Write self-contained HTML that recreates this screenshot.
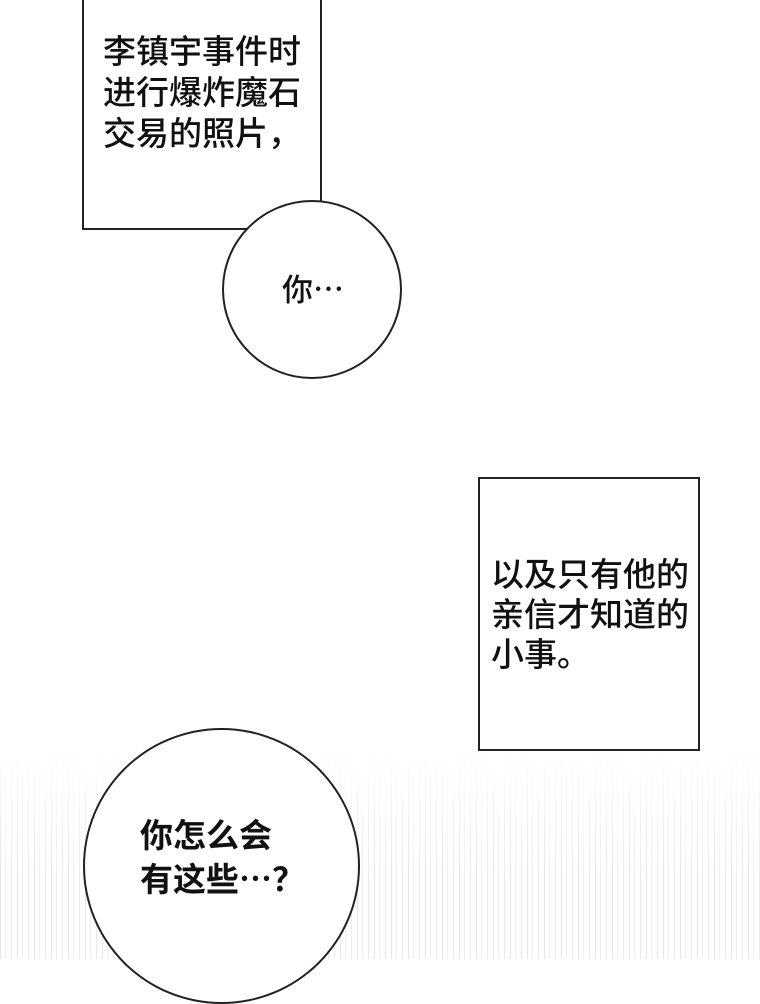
<!DOCTYPE html>
<html><head><meta charset="utf-8"><style>
html,body{margin:0;padding:0}
body{width:760px;height:959px;position:relative;overflow:hidden;background:#fff;font-family:"Liberation Sans","Noto Sans CJK SC",sans-serif;color:#111}
.streaks{position:absolute;left:0;top:750px;width:760px;height:209px;
background:repeating-linear-gradient(90deg,rgba(180,180,180,.35) 0 1px,transparent 1px 5px,rgba(200,200,200,.3) 5px 6px,transparent 6px 11px,rgba(170,170,170,.25) 11px 12px,transparent 12px 17px);
-webkit-mask-image:linear-gradient(to bottom,transparent,#000 60%);mask-image:linear-gradient(to bottom,transparent,#000 60%)}
.box{position:absolute;border:2px solid #222;background:#fff;box-sizing:border-box}
.t{position:absolute;font-size:33px;line-height:41px;white-space:nowrap;font-weight:500}
.c{position:absolute;border:2px solid #222;border-radius:50%;background:#fff;box-sizing:border-box}
</style></head><body>
<div class="streaks"></div>
<div class="box" style="left:82px;top:-4px;width:240px;height:234px"></div>
<div class="t" style="left:103px;top:31px">李镇宇事件时<br>进行爆炸魔石<br>交易的照片，</div>
<div class="c" style="left:222px;top:200px;width:180px;height:179px"></div>
<div class="t" style="left:282px;top:270px;font-size:31px">你⋯</div>
<div class="box" style="left:478px;top:477px;width:222px;height:274px"></div>
<div class="t" style="left:491px;top:555px;line-height:40px">以及只有他的<br>亲信才知道的<br>小事。</div>
<div class="c" style="left:83px;top:728px;width:277px;height:276px"></div>
<div class="t" style="left:140px;top:814px;font-weight:bold;line-height:44px;font-size:33px">你怎么会<br>有这些⋯？</div>
</body></html>
